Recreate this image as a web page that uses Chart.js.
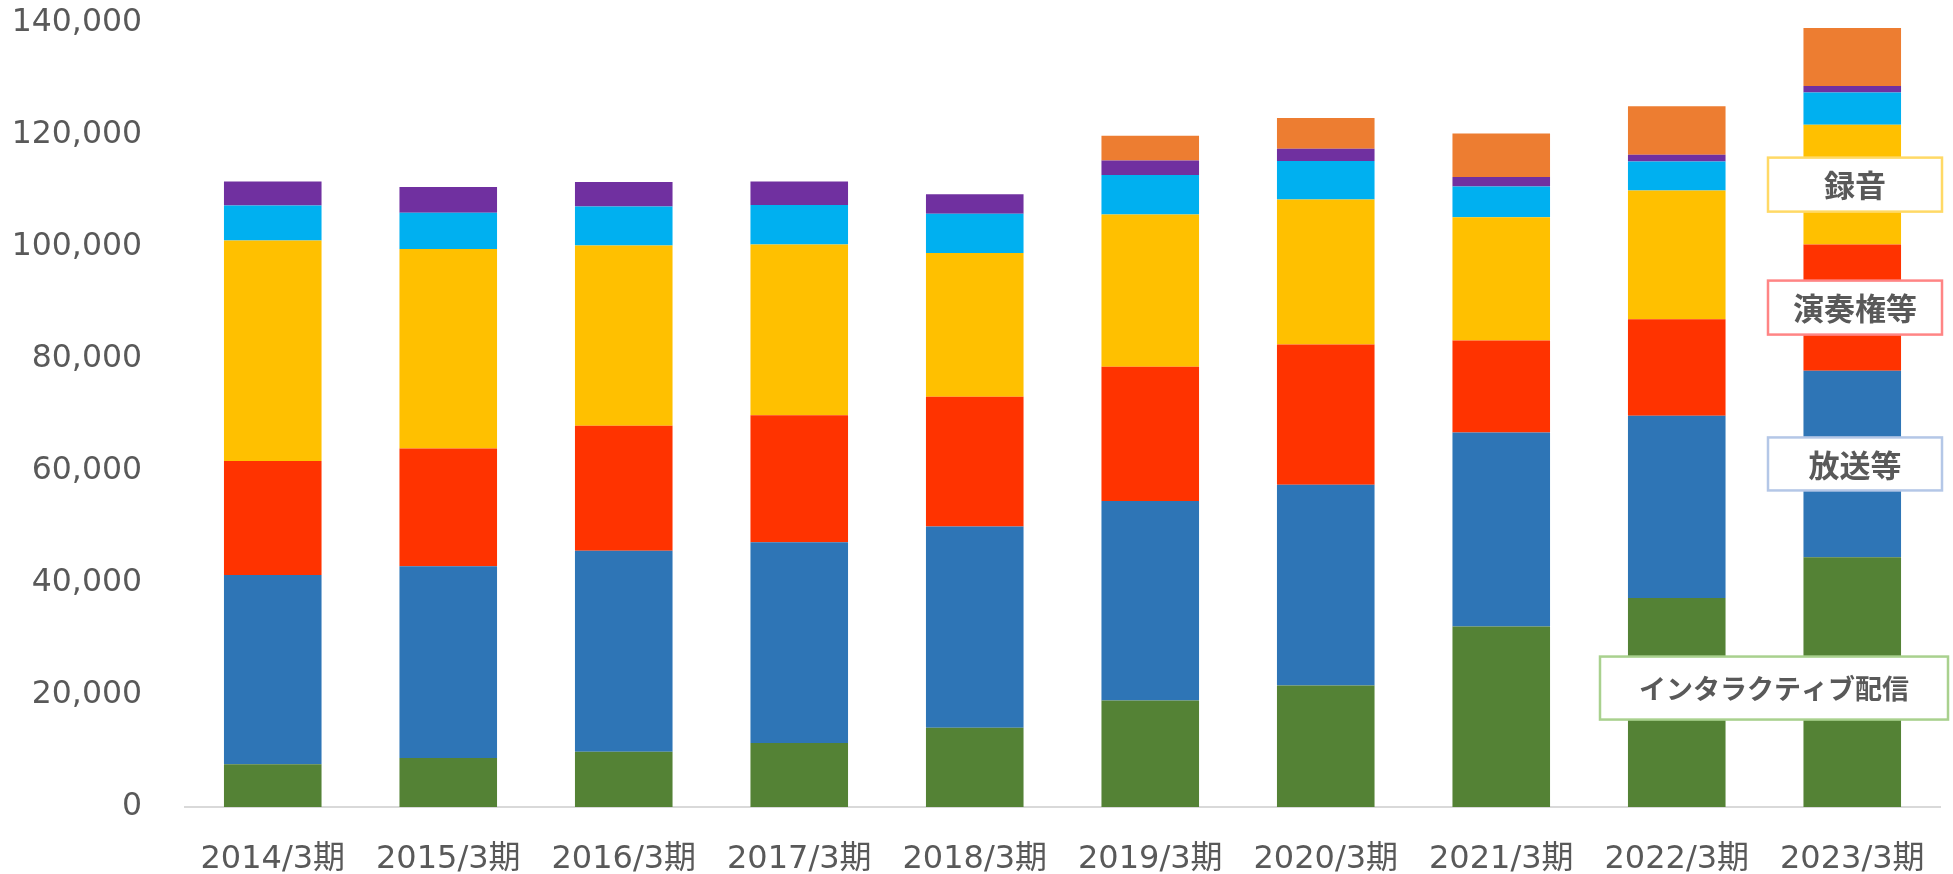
<!DOCTYPE html>
<html>
<head>
<meta charset="utf-8">
<script src="https://cdn.jsdelivr.net/npm/chart.js@4"></script>
<style>
  body { margin: 0; background: #fff; }
  #wrap { width: 1953px; height: 874px; }
</style>
</head>
<body>
<div id="wrap"><canvas id="chart" width="1953" height="874"></canvas></div>
<script>
// fiscal years
const periods = ['2014/3期', '2015/3期', '2016/3期', '2017/3期', '2018/3期', '2019/3期', '2020/3期', '2021/3期', '2022/3期', '2023/3期'];

// stacked segments, bottom to top
const interactive = [7650, 8750, 9880, 11410, 14170, 19020, 21690, 32210, 37310, 44620];
const broadcast = [33780, 34230, 35860, 35860, 35940, 35610, 35870, 34650, 32550, 33280];
const performance = [20370, 21050, 22340, 22670, 23150, 23980, 25010, 16440, 17230, 22560];
const recording = [39350, 35620, 32210, 30520, 25650, 27180, 25900, 22010, 23000, 21360];
const video = [6260, 6470, 6960, 7040, 7040, 7050, 6880, 5510, 5180, 5760];
const rental = [4270, 4610, 4370, 4210, 3490, 2600, 2190, 1690, 1220, 1190];
const others = [0, 0, 0, 0, 0, 4440, 5500, 7780, 8660, 10340];

const yTicks = [0, 20000, 40000, 60000, 80000, 100000, 120000, 140000];

const textColor = '#595959';

// boxed labels next to the last bar
const boxLabels = [
  { ds: 3, text: '録音', border: '#FFD966', left: 1768, right: 1942, h: 54, size: 31, dy: 0 },
  { ds: 2, text: '演奏権等', border: '#FF8585', left: 1768, right: 1942, h: 54, size: 31, dy: 0 },
  { ds: 1, text: '放送等', border: '#B4C7E7', left: 1768, right: 1942, h: 53, size: 31, dy: 0 },
  { ds: 0, text: 'インタラクティブ配信', border: '#A9D18E', left: 1600, right: 1948, h: 63, size: 27, dy: 6 },
];

const boxPlugin = {
  id: 'boxLabels',
  afterDatasetsDraw(chart) {
    const ctx = chart.ctx;
    const last = periods.length - 1;
    boxLabels.forEach((b) => {
      const el = chart.getDatasetMeta(b.ds).data[last];
      const cy = (el.y + el.base) / 2 + b.dy;
      const top = cy - b.h / 2;
      ctx.save();
      ctx.fillStyle = '#ffffff';
      ctx.fillRect(b.left, top, b.right - b.left, b.h);
      ctx.strokeStyle = b.border;
      ctx.lineWidth = 2.5;
      ctx.strokeRect(b.left, top, b.right - b.left, b.h);
      ctx.fillStyle = textColor;
      ctx.font = 'bold ' + b.size + 'px "Noto Sans CJK JP"';
      ctx.textAlign = 'center';
      ctx.textBaseline = 'middle';
      ctx.fillText(b.text, (b.left + b.right) / 2, cy + 1);
      ctx.restore();
    });
  }
};

const seriesList = [
  { label: 'インタラクティブ配信', data: interactive, color: '#548235' },
  { label: '放送等', data: broadcast, color: '#2E75B6' },
  { label: '演奏権等', data: performance, color: '#FF3300' },
  { label: '録音', data: recording, color: '#FFC000' },
  { label: 'ビデオ', data: video, color: '#00B0F0' },
  { label: '貸与', data: rental, color: '#7030A0' },
  { label: 'その他', data: others, color: '#ED7D31' },
];

new Chart(document.getElementById('chart'), {
  type: 'bar',
  data: {
    labels: periods,
    datasets: seriesList.map((s) => ({
      label: s.label,
      data: s.data,
      backgroundColor: s.color,
      borderWidth: 0,
      barPercentage: 0.556,
      categoryPercentage: 1,
    })),
  },
  options: {
    responsive: false,
    animation: false,
    layout: { padding: { top: 23, right: 13, left: 0, bottom: 0 } },
    plugins: {
      legend: { display: false },
      tooltip: { enabled: false },
    },
    scales: {
      x: {
        stacked: true,
        grid: { display: false, drawTicks: false },
        border: { display: true, color: '#D9D9D9', width: 2 },
        ticks: {
          color: textColor,
          font: { family: '"DejaVu Sans", "Noto Sans CJK JP"', size: 32 },
          padding: 33,
          maxRotation: 0,
        },
        afterFit: (scale) => {
          scale.height = 67;
          scale.paddingLeft = 0;
          scale.paddingRight = 0;
        },
      },
      y: {
        stacked: true,
        min: 0,
        max: 140000,
        grid: { display: false, drawTicks: false },
        border: { display: false },
        afterBuildTicks: (scale) => { scale.ticks = yTicks.map((v) => ({ value: v })); },
        ticks: {
          color: textColor,
          font: { family: '"DejaVu Sans"', size: 31.5 },
          padding: 43,
          callback: (v) => v.toLocaleString('en-US'),
        },
        afterFit: (scale) => {
          scale.width = 185;
          scale.paddingTop = 0;
          scale.paddingBottom = 0;
        },
      },
    },
  },
  plugins: [boxPlugin],
});
</script>
</body>
</html>
